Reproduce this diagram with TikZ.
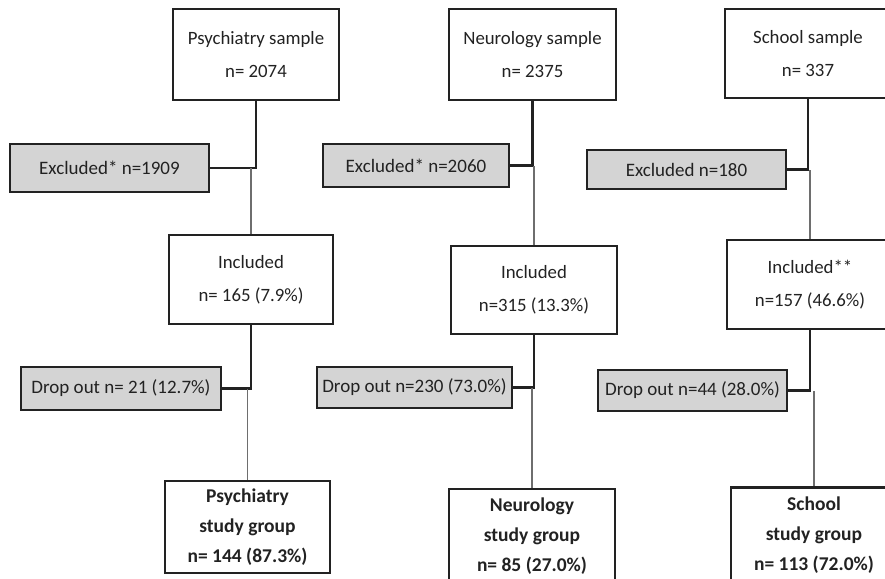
\documentclass[tikz,border=0pt]{standalone}
\usepackage{fontspec}
\setmainfont{Carlito}
\usepackage{tikz}
\definecolor{boxgray}{RGB}{212, 212, 212}
\definecolor{inkdark}{RGB}{34, 34, 34}
\definecolor{linegray}{RGB}{110, 110, 110}

\begin{document}
\begin{tikzpicture}[
    x=1pt, y=-1pt,
    box/.style={rectangle, draw=inkdark, line width=2.8pt, fill=white, inner sep=0pt, align=center, text=inkdark, font=\fontsize{18.8}{33}\selectfont},
    group/.style={box, font=\fontsize{19.5}{30}\selectfont\bfseries},
    gbox/.style={rectangle, draw=inkdark, line width=2pt, fill=boxgray, inner sep=0pt, align=center, text=inkdark, font=\fontsize{19}{20}\selectfont},
    main/.style={draw=inkdark, line width=2.5pt},
    side/.style={draw=linegray, line width=1.5pt}
]
\clip (0,0) rectangle (885,578);

% Psychiatry
\node[box, minimum width=166pt, minimum height=91pt] (psySample) at (256,54.5) {Psychiatry sample\\n= 2074};
\node[gbox, minimum width=199pt, minimum height=48pt] (psyExcl) at (109.5,168) {Excluded* n=1909};
\node[box, minimum width=164pt, minimum height=89pt] (psyIncl) at (251,279.5) {Included\\n= 165 (7.9\%)};
\node[gbox, minimum width=200pt, minimum height=43pt] (psyDrop) at (121,388.5) {Drop out n= 21 (12.7\%)};
\node[group, minimum width=165pt, minimum height=92pt] (psyGroup) at (247.5,527) {Psychiatry\\study group\\n= 144 (87.3\%)};

% Neurology
\node[box, minimum width=167pt, minimum height=91pt] (neuSample) at (532.5,54.5) {Neurology sample\\n= 2375};
\node[gbox, minimum width=186pt, minimum height=43pt] (neuExcl) at (416,165.5) {Excluded* n=2060};
\node[box, minimum width=166pt, minimum height=88pt] (neuIncl) at (534,290) {Included\\n=315 (13.3\%)};
\node[gbox, minimum width=195pt, minimum height=41pt] (neuDrop) at (414.5,387.5) {Drop out n=230 (73.0\%)};
\node[group, minimum width=166pt, minimum height=95pt] (neuGroup) at (532,536.5) {Neurology\\study group\\n= 85 (27.0\%)};

% School
\node[box, minimum width=166pt, minimum height=89pt] (schSample) at (808,53.5) {School sample\\n= 337};
\node[gbox, minimum width=199pt, minimum height=39pt] (schExcl) at (686.5,169.5) {Excluded n=180};
\node[box, minimum width=166pt, minimum height=89pt] (schIncl) at (810,284.5) {Included**\\n=157 (46.6\%)};
\node[gbox, minimum width=189pt, minimum height=41pt] (schDrop) at (692.5,390.5) {Drop out n=44 (28.0\%)};
\node[group, minimum width=166pt, minimum height=95pt] (schGroup) at (814,535) {School\\study group\\n= 113 (72.0\%)};

% Connectors
\foreach \col in {psy, neu, sch} {
    \draw[main] (\col Sample.south) |- (\col Excl.east);
    \draw[side] (\col Incl.north) -- (\col Incl.north |- \col Excl.east);
    \draw[main] (\col Incl.south) |- (\col Drop.east);
    \draw[side] (\col Group.north) -- (\col Group.north |- \col Drop.east);
}

\end{tikzpicture}
\end{document}
